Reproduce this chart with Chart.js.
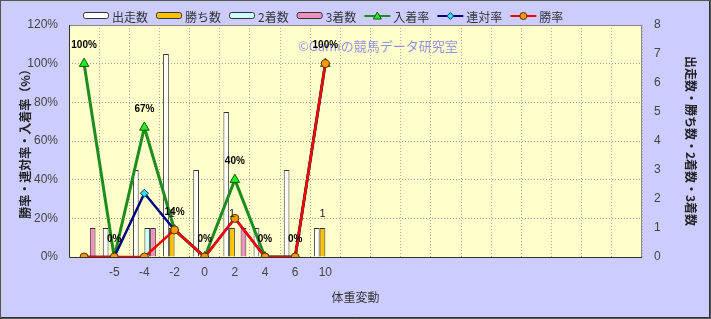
<!DOCTYPE html>
<html>
<head>
<meta charset="utf-8">
<script src="https://cdn.jsdelivr.net/npm/chart.js@4/dist/chart.umd.min.js"></script>
<style>
  html, body { margin: 0; padding: 0; background: #ccccff; }
  #wrap { width: 711px; height: 319px; }
</style>
</head>
<body>
<div id="wrap"><canvas id="weightChart" width="711" height="319"></canvas></div>
<script>
// 体重変動ごとの成績
const categories = ["", "-5", "-4", "-2", "0", "2", "4", "6", "10", "", "", "", "", "", "", "", "", "", ""];
const runs = [null, 1, 3, 7, 3, 5, 1, 3, 1];
const wins = [0, 0, 0, 1, 0, 1, 0, 0, 1];
const seconds = [0, 0, 1, 0, 0, 0, 0, 0, 0];
const thirds = [1, 0, 1, 0, 0, 1, 0, 0, 0];
const placeRate = [100, 0, 67, 14, 0, 40, 0, 0, 100];   // 入着率
const quinellaRate = [0, 0, 33, 14, 0, 20, 0, 0, 100];  // 連対率
const winRate = [0, 0, 0, 14, 0, 20, 0, 0, 100];        // 勝率
const rateTicks = [0, 20, 40, 60, 80, 100, 120];
const countTicks = [0, 1, 2, 3, 4, 5, 6, 7, 8];

const JP = '"Noto Sans CJK JP", sans-serif';
const LAT = '"Liberation Sans", Arial, sans-serif';

const legendItems = [
  { label: "出走数", kind: "bar", color: "#ffffff" },
  { label: "勝ち数", kind: "bar", color: "#ffc000" },
  { label: "2着数", kind: "bar", color: "#ccffff" },
  { label: "3着数", kind: "bar", color: "#f090c0" },
  { label: "入着率", kind: "line", color: "#1e8c1e", marker: "triangle", fill: "#22ee22", edge: "#0a5a0a" },
  { label: "連対率", kind: "line", color: "#000080", marker: "diamond", fill: "#33ddee", edge: "#004060" },
  { label: "勝率", kind: "line", color: "#ff0000", marker: "circle", fill: "#ff9900", edge: "#553300" },
];

function drawMarker(ctx, type, x, y, fill, edge) {
  ctx.save();
  ctx.fillStyle = fill;
  ctx.strokeStyle = edge;
  ctx.lineWidth = 1;
  ctx.beginPath();
  if (type === "triangle") {
    ctx.moveTo(x, y - 4); ctx.lineTo(x + 4, y + 3); ctx.lineTo(x - 4, y + 3);
  } else if (type === "diamond") {
    ctx.moveTo(x, y - 3.5); ctx.lineTo(x + 3.5, y); ctx.lineTo(x, y + 3.5); ctx.lineTo(x - 3.5, y);
  } else {
    ctx.arc(x, y, 3.5, 0, Math.PI * 2);
  }
  ctx.closePath();
  ctx.fill();
  ctx.stroke();
  ctx.restore();
}

const decorPlugin = {
  id: "decor",
  beforeDraw(chart) {
    const { ctx, chartArea: a, width, height } = chart;
    ctx.save();
    ctx.fillStyle = "#ccccff";
    ctx.fillRect(0, 0, width, height);
    ctx.fillStyle = "#ffffcc";
    ctx.fillRect(a.left, a.top, a.right - a.left, a.bottom - a.top);
    ctx.restore();
  },
  beforeDatasetsDraw(chart) {
    const { ctx } = chart;
    ctx.save();
    ctx.font = "13px " + JP;
    ctx.fillStyle = "rgba(120,120,235,0.8)";
    ctx.textBaseline = "middle";
    ctx.fillText("©Gamiの競馬データ研究室", 298, 46);
    ctx.restore();
  },
  afterDatasetsDraw(chart) {
    const { ctx } = chart;
    ctx.save();
    ctx.textAlign = "center";
    ctx.textBaseline = "middle";
    // 勝ち数ラベル
    const winMeta = chart.getDatasetMeta(1);
    ctx.font = "11px " + LAT;
    ctx.fillStyle = "#222";
    winMeta.data.forEach((bar, i) => {
      if (wins[i] > 0) ctx.fillText(String(wins[i]), bar.x, bar.y - 14);
    });
    // 入着率ラベル
    const placeMeta = chart.getDatasetMeta(4);
    ctx.font = "bold 10px " + LAT;
    ctx.fillStyle = "#000";
    placeMeta.data.forEach((pt, i) => {
      if (placeRate[i] != null) ctx.fillText(placeRate[i] + "%", pt.x, pt.y - 18);
    });
    ctx.restore();
  },
  afterDraw(chart) {
    const { ctx, chartArea: a, width, height } = chart;
    ctx.save();
    // 枠
    ctx.lineWidth = 1;
    ctx.strokeStyle = "#888";
    ctx.strokeRect(a.left + 0.5, a.top + 0.5, a.right - a.left - 1, a.bottom - a.top);
    ctx.strokeStyle = "#333";
    ctx.beginPath();
    ctx.moveTo(a.left + 0.5, a.top);
    ctx.lineTo(a.left + 0.5, a.bottom + 0.5);
    ctx.lineTo(a.right, a.bottom + 0.5);
    ctx.stroke();
    ctx.strokeStyle = "#555";
    ctx.strokeRect(0.5, 0.5, width - 1, height - 1);
    ctx.strokeStyle = "#333";
    ctx.beginPath();
    ctx.moveTo(width - 1.5, 1); ctx.lineTo(width - 1.5, height - 1.5); ctx.lineTo(1, height - 1.5);
    ctx.stroke();

    // 凡例
    let x = 83;
    const y = 16;
    ctx.font = "12px " + JP;
    ctx.textBaseline = "middle";
    legendItems.forEach((it) => {
      if (it.kind === "bar") {
        ctx.fillStyle = it.color;
        ctx.strokeStyle = "#333";
        ctx.beginPath();
        ctx.roundRect(x + 0.5, y - 3.5, 25, 6, 2);
        ctx.fill();
        ctx.stroke();
      } else {
        ctx.strokeStyle = it.color;
        ctx.lineWidth = 2;
        ctx.beginPath();
        ctx.moveTo(x, y);
        ctx.lineTo(x + 26, y);
        ctx.stroke();
        ctx.lineWidth = 1;
        drawMarker(ctx, it.marker, x + 13, y, it.fill, it.edge);
      }
      ctx.fillStyle = "#333";
      ctx.fillText(it.label, x + 29, y + 1);
      x += 29 + ctx.measureText(it.label).width + 8;
    });
    ctx.restore();
  },
};

const barCommon = {
  yAxisID: "y1",
  borderColor: "#333",
  borderWidth: 1,
  categoryPercentage: 0.76,
  barPercentage: 1.0,
  order: 3,
};

new Chart(document.getElementById("weightChart"), {
  type: "bar",
  data: {
    labels: categories,
    datasets: [
      { ...barCommon, label: "出走数", data: runs, backgroundColor: "#ffffff" },
      { ...barCommon, label: "勝ち数", data: wins, backgroundColor: "#ffc000" },
      { ...barCommon, label: "2着数", data: seconds, backgroundColor: "#ccffff" },
      { ...barCommon, label: "3着数", data: thirds, backgroundColor: "#f090c0" },
      {
        type: "line", label: "入着率", data: placeRate, yAxisID: "y", order: 2,
        borderColor: "#1e8c1e", borderWidth: 3, tension: 0,
        pointStyle: "triangle", pointRadius: 5.5,
        pointBackgroundColor: "#22ee22", pointBorderColor: "#0a5a0a", pointBorderWidth: 1,
      },
      {
        type: "line", label: "連対率", data: quinellaRate, yAxisID: "y", order: 1,
        borderColor: "#000080", borderWidth: 2.5, tension: 0,
        pointStyle: "rectRot", pointRadius: 4,
        pointBackgroundColor: "#33ddee", pointBorderColor: "#004060", pointBorderWidth: 1,
      },
      {
        type: "line", label: "勝率", data: winRate, yAxisID: "y", order: 0,
        borderColor: "#ff0000", borderWidth: 2.5, tension: 0,
        pointStyle: "circle", pointRadius: 4,
        pointBackgroundColor: "#ff9900", pointBorderColor: "#553300", pointBorderWidth: 1,
      },
    ],
  },
  options: {
    responsive: false,
    animation: false,
    layout: { padding: { top: 25, left: 0, right: 0, bottom: 0 } },
    plugins: {
      legend: { display: false },
      tooltip: { enabled: false },
    },
    scales: {
      x: {
        offset: true,
        grid: { offset: true, color: "#aaa", drawTicks: false },
        border: { display: false, dash: [1, 2] },
        ticks: {
          autoSkip: false, maxRotation: 0, padding: 8,
          color: "#444", font: { family: LAT, size: 12 },
        },
        title: {
          display: true, text: "体重変動", color: "#333",
          font: { family: JP, size: 12 }, padding: { top: 0, bottom: 14 },
        },
        afterFit(s) { s.height = 62; },
      },
      y: {
        position: "left",
        min: rateTicks[0], max: rateTicks[rateTicks.length - 1],
        afterBuildTicks(s) { s.ticks = rateTicks.map((v) => ({ value: v })); },
        grid: { color: "#999", drawTicks: false },
        border: { display: false, dash: [1, 2] },
        ticks: {
          padding: 11, color: "#444", font: { family: LAT, size: 12 },
          callback: (v) => v + "%",
        },
        title: {
          display: true, text: "勝率・連対率・入着率（%）", color: "#222",
          font: { family: JP, size: 12, weight: "bold" }, padding: { top: 18, bottom: 0 },
        },
        afterFit(s) { s.width = 69; },
      },
      y1: {
        position: "right",
        min: countTicks[0], max: countTicks[countTicks.length - 1],
        afterBuildTicks(s) { s.ticks = countTicks.map((v) => ({ value: v })); },
        grid: { drawOnChartArea: false, drawTicks: false },
        border: { display: false },
        ticks: { padding: 12, color: "#444", font: { family: LAT, size: 12 } },
        title: {
          display: true, text: "出走数・勝ち数・2着数・3着数", color: "#222",
          font: { family: JP, size: 12, weight: "bold" }, padding: { top: 13, bottom: 0 },
        },
        afterFit(s) { s.width = 69; },
      },
    },
  },
  plugins: [decorPlugin],
});
</script>
</body>
</html>
